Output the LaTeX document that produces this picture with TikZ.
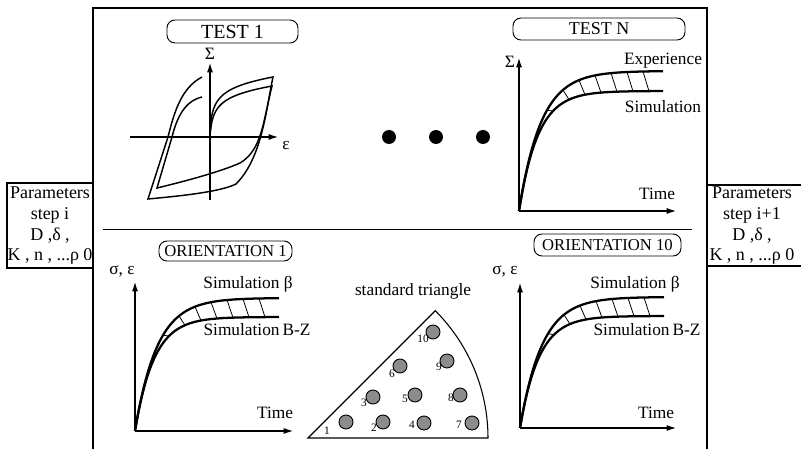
\documentclass[tikz,border=0pt]{standalone}
\usepackage{fontspec}
\setmainfont{Liberation Serif}
\usetikzlibrary{arrows.meta}
\newcommand\growthpair[4]{%
  \draw[curve] plot[domain=0:144, samples=90, smooth] ({#1+\x},{#2-#3*(1-exp(-\x/22))});
  \draw[curve] plot[domain=0:144, samples=90, smooth] ({#1+\x},{#2-#4*(1-exp(-\x/19))});
  \foreach \t in {28,44,60,76,92,108,124}{
    \draw[hatch] ({#1+\t},{#2-#3*(1-exp(-\t/22))}) -- ({#1+\t+6},{#2-#4*(1-exp(-(\t+6)/19))});
  }%
}
\begin{document}
\begin{tikzpicture}[x=0.75pt,y=-0.75pt,
  frame/.style={line width=1.1pt},
  thinline/.style={line width=0.6pt},
  lbl/.style={font=\fontsize{13}{15}\selectfont, inner sep=0pt},
  small/.style={font=\fontsize{8.5}{9}\selectfont, inner sep=0pt},
  tag/.style={draw, rounded corners=6pt, line width=0.7pt, inner sep=0pt, font=\fontsize{12.5}{14}\selectfont},
  params/.style={align=center, inner sep=0pt, font=\fontsize{13.5}{15.5}\selectfont},
  axis/.style={line width=0.8pt, -{Latex[length=7pt,width=4.5pt]}},
  curve/.style={line width=1.7pt},
  loopline/.style={line width=1.1pt},
  hatch/.style={line width=0.6pt},
  grain/.style={circle, draw, fill=black!45, line width=0.7pt, minimum size=10.5pt, inner sep=0pt},
  dot/.style={circle, fill=black, minimum size=10.5pt, inner sep=0pt}
]
\useasboundingbox (0,0) rectangle (801,449);
% main frame
\draw[frame] (93,452) -- (93,8) -- (707,8) -- (707,452);
% divider
\draw[thinline] (103,229) -- (692,229);
% parameter boxes
\draw[frame] (93,183) -- (7,183) -- (7,268) -- (93,268);
\node[params] (pin) at (50,226) {Parameters\\step i\\D ,δ ,\\K , n , ...ρ 0};
\draw[frame] (707,185) -- (803,185);
\draw[frame] (707,266) -- (803,266);
\node[params] (pout) at (752,226) {Parameters\\step i+1\\D ,δ ,\\K , n , ...ρ 0};
% tags
\node[tag, minimum width=98.25pt, minimum height=17.25pt, font=\fontsize{15}{16}\selectfont] (t1) at (232.5,31.5) {TEST 1};
\node[tag, minimum width=129pt, minimum height=16.5pt, font=\fontsize{13.5}{15}\selectfont] (tN) at (599,29) {TEST N};
\node[tag, minimum width=99.75pt, minimum height=15pt] (o1) at (225.5,251) {ORIENTATION 1};
\node[tag, minimum width=110.25pt, minimum height=16.5pt] (o10) at (607.5,245) {ORIENTATION 10};
% ---------- TEST 1 : hysteresis ----------
\coordinate (h0) at (210,137);
\draw[axis] (210,200) -- (210,63);
\draw[axis] (130,137) -- (278,137);
\node[lbl] (sig1) at (210,54) {Σ};
\node[lbl] (eps1) at (286,146) {ε};
\draw[loopline] (h0) .. controls (211,100) and (216,88) .. (273,77)
  .. controls (266,110) and (262,158) .. (236,184)
  .. controls (220,192) and (180,196) .. (148,199)
  -- (168,137) .. controls (174,113) and (181,88) .. (202,77);
\draw[loopline] (h0) .. controls (212,106) and (219,96) .. (272,86)
  .. controls (263,122) and (262,150) .. (240,163)
  .. controls (220,172) and (182,182) .. (157,188)
  -- (172,137) .. controls (177,117) and (185,101) .. (202,97);
% dots
\node[dot] (d1) at (389,137) {};
\node[dot] (d2) at (436,137) {};
\node[dot] (d3) at (483,137) {};
% ---------- TEST N ----------
\coordinate (oN) at (519,211);
\draw[axis] (oN) -- (519,58);
\draw[axis] (oN) -- (676,211);
\node[lbl] (sigN) at (510,62) {Σ};
\node[lbl] (exN) at (663,61) {Experience};
\node[lbl] (siN) at (663,107) {Simulation};
\node[lbl] (tiN) at (657,194) {Time};
\growthpair{519}{211}{140}{120}
% ---------- ORIENTATION 1 ----------
\coordinate (oA) at (135,431);
\draw[axis] (oA) -- (135,282);
\draw[axis] (oA) -- (293,431);
\node[lbl] (seA) at (122,271) {σ, ε};
\node[lbl] (sbA) at (248,284) {Simulation β};
\node[lbl] (szA) at (257,330) {Simulation\,B-Z};
\node[lbl] (tiA) at (275,413) {Time};
\growthpair{135}{431}{133}{114}
% ---------- ORIENTATION 10 ----------
\coordinate (oB) at (520,428);
\draw[axis] (oB) -- (520,283);
\draw[axis] (oB) -- (676,428);
\node[lbl] (seB) at (505,271) {σ, ε};
\node[lbl] (sbB) at (635,284) {Simulation β};
\node[lbl] (szB) at (647,330) {Simulation\,B-Z};
\node[lbl] (tiB) at (656,413) {Time};
\growthpair{520}{428}{131}{112}
% ---------- standard triangle ----------
\node[lbl] (st) at (413,291) {standard triangle};
\coordinate (tA) at (308,438);
\coordinate (tB) at (488,438);
\draw[line width=0.8pt] (tA) -- (tB) arc[start angle=0, end angle=-45, radius=180] -- cycle;
\foreach \n/\cx/\cy/\lx/\ly in {1/346/422/327/431, 2/383/422/374/428, 3/373/397/364/403,
  4/424/423/412/425, 5/415/395/405/399, 6/400/366/392/374, 7/472/423/459/425,
  8/460/395/451/398, 9/447/361/439/367, 10/433/332/423/339}{
  \node[grain] (g\n) at (\cx,\cy) {};
  \node[small] (n\n) at (\lx,\ly) {\n};
}
\end{tikzpicture}
\end{document}
